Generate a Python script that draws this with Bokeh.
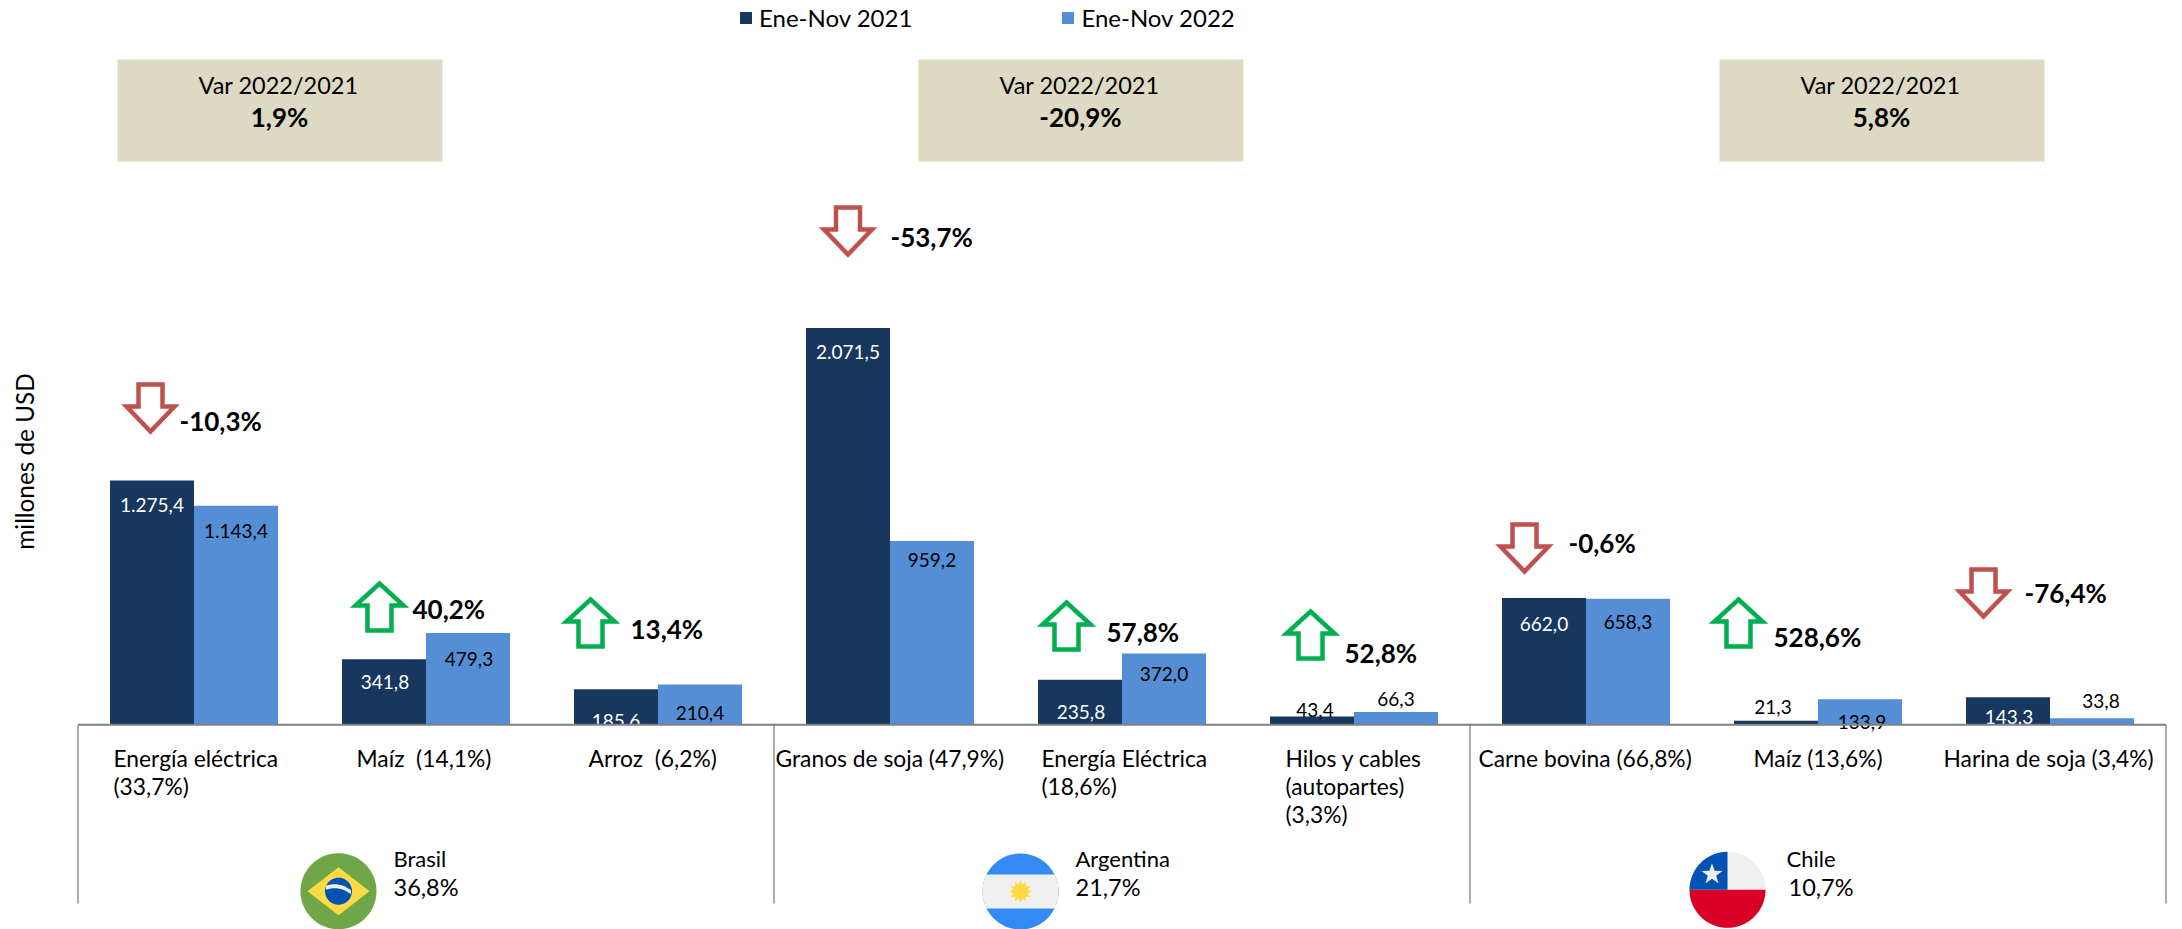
import numpy as np
from bokeh.core.properties import value
from bokeh.embed import file_html
from bokeh.models import Legend, LegendItem, Range1d
from bokeh.plotting import figure
from bokeh.resources import INLINE

# ---- data ----
products = ["Energía eléctrica\n(33,7%)", "Maíz \u00a0(14,1%)", "Arroz \u00a0(6,2%)",
            "Granos de soja (47,9%)", "Energía Eléctrica\n(18,6%)", "Hilos y cables\n(autopartes)\n(3,3%)",
            "Carne bovina (66,8%)", "Maíz (13,6%)", "Harina de soja (3,4%)"]
values_2021 = [1275.4, 341.8, 185.6, 2071.5, 235.8, 43.4, 662.0, 21.3, 143.3]
values_2022 = [1143.4, 479.3, 210.4, 959.2, 372.0, 66.3, 658.3, 133.9, 33.8]
changes = ["-10,3%", "40,2%", "13,4%", "-53,7%", "57,8%", "52,8%", "-0,6%", "528,6%", "-76,4%"]
countries = ["Brasil", "Argentina", "Chile"]
country_shares = ["36,8%", "21,7%", "10,7%"]
country_changes = ["1,9%", "-20,9%", "5,8%"]
series_names = ["Ene-Nov 2021", "Ene-Nov 2022"]

# ---- layout (pixels of the 2182x929 page) ----
FONT = value("Lato")
DARK, LIGHT = "#17375E", "#558ED5"
BASE_Y, UNIT = 724.3, 0.1915      # baseline, pixels per USD million
CAT_L, CAT_W = 77.5, 232.0        # left of first category, category width
W, H = 2182, 929
ORIGIN = 0
def X(px): return (np.asarray(px, dtype=float) - CAT_L) / CAT_W
def Y(py): return (BASE_Y - np.asarray(py, dtype=float)) / UNIT

p = figure(width=W, height=H, output_backend="svg", toolbar_location=None,
           x_axis_location=None, y_axis_location=None, min_border=0,
           x_range=Range1d(float(X(ORIGIN)), float(X(ORIGIN + W))),
           y_range=Range1d(float(Y(ORIGIN + H)), float(Y(ORIGIN))))
p.grid.visible = False
p.outline_line_color = None
p.background_fill_color = "white"

# ---- bars ----
centers = np.arange(9) + 0.5
bar_w = 84.0 / CAT_W
r1 = p.vbar(x=centers - bar_w / 2, top=values_2021, width=bar_w, bottom=0, fill_color=DARK, line_color=None)
r2 = p.vbar(x=centers + bar_w / 2, top=values_2022, width=bar_w, bottom=0, fill_color=LIGHT, line_color=None)

def es(v):
    s = f"{v:,.1f}"
    return s.replace(",", "#").replace(".", ",").replace("#", ".")

def txt(x_px, y_px, s, size, color="black", align="left", style="normal", angle=0.0):
    p.text(x=[float(X(x_px))], y=[float(Y(y_px))], text=[s], text_font=FONT, text_font_size=f"{size}px",
           text_color=color, text_align=align, text_baseline="middle", text_font_style=style, angle=angle)

# value labels: bar labels' centre heights on the page
label_y_2021 = [504, 681, 720, 351, 711, 709, 623, 706, 716]
label_y_2022 = [530, 658, 712, 559, 673, 698, 621, 721, 700]
label_dx_2021 = [0, 1, 0, 0, 1, 3, 0, -3, 1]
label_dx_2022 = [0, 1, 0, 0, 0, 0, 0, 2, 9]
color_2021 = ["white"] * 5 + ["black"] + ["white"] + ["black"] + ["white"]
for i in range(9):
    cx = CAT_L + (i + 0.5) * CAT_W
    txt(cx - 42 + label_dx_2021[i], label_y_2021[i], es(values_2021[i]), 19, color_2021[i], "center")
    txt(cx + 42 + label_dx_2022[i], label_y_2022[i], es(values_2022[i]), 19, "black", "center")

# ---- axis lines ----
p.line(X([CAT_L, CAT_L + 9 * CAT_W]), Y([BASE_Y, BASE_Y]), line_color="#808080", line_width=2)
for k in range(4):
    xs = CAT_L + k * 3 * CAT_W
    p.line(X([xs, xs]), Y([BASE_Y, 903]), line_color="#808080", line_width=1.3)

# ---- category labels ----
cat_x = [113, 356, 588, 775, 1041, 1285, 1478, 1753, 1943]
for i, lab in enumerate(products):
    for j, line in enumerate(lab.split("\n")):
        txt(cat_x[i], 757 + 28 * j, line, 22.8)

# ---- change arrows ----
arrow_cx = [150, 379, 590, 847.5, 1066, 1310, 1524, 1738, 1983]
arrow_top = [382, 580, 596, 205, 599, 608, 522, 596, 567]
def arrow(cx, top, up):
    hw, sw, h, hl = 24, 12, 49, 25
    if up:
        xs = [cx, cx + hw, cx + sw, cx + sw, cx - sw, cx - sw, cx - hw]
        ys = [top + 3, top + hl, top + hl, top + h + 1, top + h + 1, top + hl, top + hl]
        col = "#00B050"
    else:
        xs = [cx, cx + hw, cx + sw, cx + sw, cx - sw, cx - sw, cx - hw]
        ys = [top + h, top + h - hl, top + h - hl, top + 2, top + 2, top + h - hl, top + h - hl]
        col = "#C0504D"
    p.patch(X(xs), Y(ys), fill_color="white", line_color=col, line_width=4.5, line_join="miter")
for i in range(9):
    arrow(arrow_cx[i], arrow_top[i], not changes[i].startswith("-"))
change_x = [179, 412, 630, 890, 1106, 1344, 1568, 1773, 2024]
change_y = [420, 608, 628, 236, 631, 652, 542, 636, 592]
for i in range(9):
    txt(change_x[i], change_y[i], changes[i], 26, style="bold")

# ---- variation boxes ----
box_l = [117, 918, 1719]
for k in range(3):
    l = box_l[k]
    p.patch(X([l, l + 325, l + 325, l]), Y([59, 59, 161, 161]), fill_color="#DDD9C3", line_color=None)
    txt(l + 161, 84, "Var 2022/2021", 23.5, align="center")
    txt(l + 162, 116, country_changes[k], 26, align="center", style="bold")

# ---- country names and flags ----
name_x = [393, 1075, 1786]
share_x = [393, 1075, 1788]
for k in range(3):
    txt(name_x[k], 858, countries[k], 22)
    txt(share_x[k], 886, country_shares[k], 23.5)

def disc(cx, cy, r, a0=0.0, a1=2 * np.pi, n=90):
    t = np.linspace(a0, a1, n)
    return cx + r * np.cos(t), cy + r * np.sin(t)

def fill(xs, ys, col):
    p.patch(X(xs), Y(ys), fill_color=col, line_color=None)

def star(cx, cy, r_out, r_in, n):
    t = -np.pi / 2 + np.arange(2 * n) * np.pi / n
    r = np.where(np.arange(2 * n) % 2 == 0, r_out, r_in)
    return cx + r * np.cos(t), cy + r * np.sin(t)

R = 38.0
# Brazil
cx, cy = 338.0, 890.7
fill(*disc(cx, cy, R), "#6FA647")
fill([cx - 31, cx, cx + 31, cx], [cy, cy - 24, cy, cy + 24], "#FFDA44")
fill(*disc(cx, cy, 13.5), "#0052B4")
tb = np.linspace(-12.5, 12.5, 20)
band_top = cy - 4 + 0.022 * (tb + 4) ** 2 - 3
fill(np.r_[cx + tb, cx + tb[::-1]], np.r_[band_top, (band_top + 4)[::-1]], "#F0F0F0")
# Argentina
cx, cy = 1020.0, 891.0
fill(*disc(cx, cy, R), "#338AF3")
a = np.arcsin(17 / R)
xs, ys = disc(cx, cy, R, -a, a, 30)
xl, yl = disc(cx, cy, R, np.pi - a, np.pi + a, 30)
fill(np.r_[xs, xl], np.r_[ys, yl], "#F0F0F0")
fill(*star(cx, cy, 11, 7.5, 12), "#FFDA44")
# Chile
cx, cy = 1727.0, 889.3
fill(*disc(cx, cy, R), "#F0F0F0")
xs, ys = disc(cx, cy, R, 0, np.pi, 60)
fill(xs, ys, "#D80027")
xs, ys = disc(cx, cy, R, np.pi, 1.5 * np.pi, 40)
fill(np.r_[xs, cx], np.r_[ys, cy], "#0052B4")
fill(*star(cx - 15.5, cy - 15.5, 11, 4.4, 5), "#F0F0F0")

# ---- y title ----
txt(24, 461, "millones de USD", 24.3, align="center", angle=np.pi / 2)

# ---- legend ----
legend = Legend(items=[LegendItem(label=series_names[0], renderers=[r1]),
                       LegendItem(label=series_names[1], renderers=[r2])],
                orientation="horizontal", location=(738, 897), padding=0, margin=0,
                spacing=148, glyph_width=15, glyph_height=15, label_standoff=6,
                label_text_font="Lato", label_text_font_size="24px", label_text_color="black",
                border_line_color=None, background_fill_alpha=0)
p.add_layout(legend, "center")

open("out.html", "w").write(file_html(p, INLINE))
